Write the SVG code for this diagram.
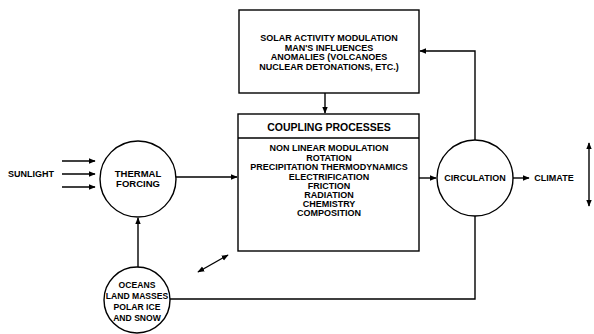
<svg xmlns="http://www.w3.org/2000/svg" width="594" height="334" viewBox="0 0 594 334">
<defs>
<marker id="ah" viewBox="0 0 10 10" refX="9" refY="5" markerWidth="7" markerHeight="7" orient="auto-start-reverse" markerUnits="userSpaceOnUse">
<path d="M0,1 L10,5 L0,9 Z" fill="#000"/>
</marker>
</defs>
<style>
.ln{stroke:#000;stroke-width:1.4;fill:none}
.box{stroke:#000;stroke-width:1.4;fill:#fff}
.t{font-family:"Liberation Sans",Arial,sans-serif;font-weight:bold;font-size:9px;fill:#000;text-anchor:middle;dominant-baseline:central}
.h{font-size:10.5px}
.s{font-size:9.5px}
.o{font-size:8.6px}
</style>
<rect width="594" height="334" fill="#fff"/>
<g id="connectors">
<line class="ln" x1="62" y1="161" x2="95" y2="161" marker-end="url(#ah)"/>
<line class="ln" x1="62" y1="174" x2="95" y2="174" marker-end="url(#ah)"/>
<line class="ln" x1="62" y1="187" x2="95" y2="187" marker-end="url(#ah)"/>
<line class="ln" x1="176" y1="177" x2="237" y2="177" marker-end="url(#ah)"/>
<line class="ln" x1="419" y1="178" x2="436" y2="178" marker-end="url(#ah)"/>
<line class="ln" x1="513" y1="178" x2="529" y2="178" marker-end="url(#ah)"/>
<line class="ln" x1="325" y1="93" x2="325" y2="113" marker-end="url(#ah)"/>
<polyline class="ln" points="475,140 475,51 420,51" marker-end="url(#ah)"/>
<polyline class="ln" points="475,216 475,299 170,299"/>
<line class="ln" x1="138" y1="267" x2="138" y2="218" marker-end="url(#ah)"/>
<line class="ln" x1="198" y1="272" x2="228" y2="255" marker-start="url(#ah)" marker-end="url(#ah)"/>
<line class="ln" x1="589" y1="143" x2="589" y2="206" marker-start="url(#ah)" marker-end="url(#ah)"/>
</g>
<g id="sunlight"><text class="t" x="31" y="174">SUNLIGHT</text></g>
<g id="thermal-forcing">
<circle class="box" cx="138" cy="179" r="38"/>
<text class="t s" x="138" y="173">THERMAL</text>
<text class="t s" x="138" y="183.5">FORCING</text>
</g>
<g id="external-factors">
<rect class="box" x="239" y="10" width="180" height="83"/>
<text class="t" x="329" y="38">SOLAR ACTIVITY MODULATION</text>
<text class="t" x="329" y="47.5">MAN'S INFLUENCES</text>
<text class="t" x="329" y="57">ANOMALIES (VOLCANOES</text>
<text class="t" x="329" y="66.5">NUCLEAR DETONATIONS, ETC.)</text>
</g>
<g id="coupling-processes">
<rect class="box" x="238" y="114" width="181" height="137"/>
<line class="ln" x1="238" y1="138" x2="419" y2="138"/>
<text class="t h" x="329" y="127">COUPLING PROCESSES</text>
<text class="t" x="329" y="148">NON LINEAR MODULATION</text>
<text class="t" x="329" y="157.5">ROTATION</text>
<text class="t" x="329" y="167">PRECIPITATION THERMODYNAMICS</text>
<text class="t" x="329" y="176.5">ELECTRIFICATION</text>
<text class="t" x="329" y="186">FRICTION</text>
<text class="t" x="329" y="195">RADIATION</text>
<text class="t" x="329" y="204">CHEMISTRY</text>
<text class="t" x="329" y="213">COMPOSITION</text>
</g>
<g id="circulation">
<circle class="box" cx="475" cy="178" r="38"/>
<text class="t" x="475" y="178">CIRCULATION</text>
</g>
<g id="climate"><text class="t" x="554" y="178">CLIMATE</text></g>
<g id="oceans">
<circle class="box" cx="137" cy="300" r="33"/>
<text class="t o" x="137" y="285">OCEANS</text>
<text class="t o" x="137" y="296">LAND MASSES</text>
<text class="t o" x="137" y="307">POLAR ICE</text>
<text class="t o" x="137" y="318">AND SNOW</text>
</g>
</svg>
